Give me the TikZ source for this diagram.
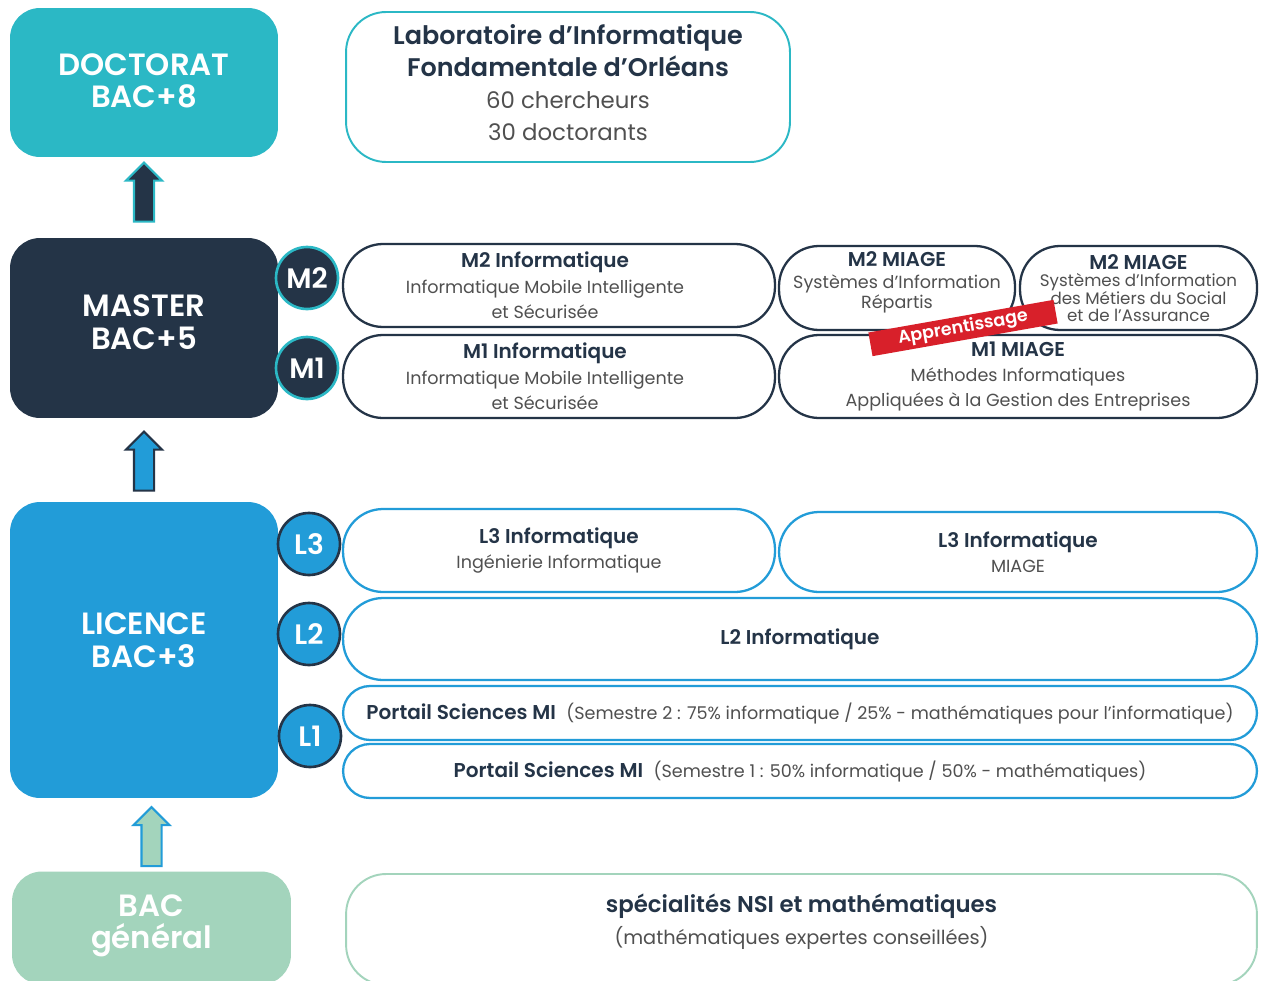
\documentclass[tikz,border=0pt]{standalone}
\usepackage{fontspec}
\usepackage{graphicx}
\setmainfont{Poppins}[BoldFont={Poppins SemiBold}]
\usetikzlibrary{shapes.arrows,calc}
\definecolor{cteal}{HTML}{2BB8C5}
\definecolor{cnavy}{HTML}{243447}
\definecolor{cblue}{HTML}{229CD8}
\definecolor{cgreen}{HTML}{A3D4BC}
\definecolor{cred}{HTML}{D8202A}
\definecolor{cgray}{HTML}{505050}
\newcommand{\ptitle}[1]{{\bfseries\fontsize{11.4}{14.5}\selectfont #1}}
\newcommand{\psub}[1]{{\color{cgray}#1}}
\tikzset{
	grade/.style 2 args={rectangle,rounded corners=0.6cm,fill=#1,minimum width=5.36cm,minimum height=#2,inner sep=0pt},
	gradetxt/.style={text=white,align=center,font=\fontsize{17.5}{18.5}\selectfont\bfseries,inner sep=0pt},
	prog/.style 2 args={rectangle,rounded corners=0.8cm,draw=#1,line width=1.3pt,fill=white,text=cnavy,align=center,font=\fontsize{10}{14.5}\selectfont,minimum width=#2,inner sep=0pt},
	progtxt/.style={text=cnavy,align=center,font=\fontsize{10}{14.5}\selectfont,inner sep=0pt},
	yr/.style 2 args={circle,fill=#1,draw=#2,line width=1.5pt,minimum size=1.24cm,inner sep=0pt,text=white,font=\fontsize{16}{16}\selectfont\bfseries},
	uparr/.style 2 args={single arrow,shape border rotate=90,fill=#1,draw=#2,line width=1.2pt,minimum height=1.18cm,minimum width=0.68cm,single arrow head extend=0.16cm,inner sep=0.18cm,anchor=tail}
}
\begin{document}
\begin{tikzpicture}[x=0.02cm,y=-0.02cm]
\clip (0,0) rectangle (1263,980);
\fill[white] (0,0) rectangle (1263,980);

% niveaux
\node [grade={cteal}{2.98cm}] (doc) at (144,82.5) {};
\node [gradetxt] (doct) at (144,81) {DOCTORAT\\BAC+8};
\node [grade={cnavy}{3.6cm}] (master) at (144,328) {};
\node [gradetxt] (mastert) at (144,322) {MASTER\\BAC+5};
\node [grade={cblue}{5.92cm}] (licence) at (144,650) {};
\node [gradetxt] (licencet) at (144,640) {LICENCE\\BAC+3};
\node [grade={cgreen}{2.26cm},minimum width=5.58cm] (bac) at (151.5,928) {};
\node [gradetxt] (bact) at (151.5,926) {BAC\\général};

% fleches
\node [uparr={cnavy}{cteal}] (a1) at ($(master.north)+(0,-15)$) {};
\node [uparr={cblue}{cnavy}] (a2) at ($(licence.north)+(0,-10)$) {};
\node [uparr={cgreen}{cblue}] (a3) at ($(bac.north)+(0,-4)$) {};

% laboratoire
\node [prog={cteal}{8.88cm},minimum height=3cm,line width=1.1pt] (lab) at (568,87) {};
\node [progtxt,font=\fontsize{13}{18.2}\selectfont] (labt) at ($(lab.center)+(0,-4)$)
	{{\bfseries\fontsize{14.5}{18.2}\selectfont Laboratoire d’Informatique}\\{\bfseries\fontsize{14.5}{18.2}\selectfont Fondamentale d’Orléans}\\\psub{60 chercheurs}\\\psub{30 doctorants}};

% master
\node [prog={cnavy}{8.64cm},minimum height=1.66cm] (m2info) at (559,285.5) {};
\node [progtxt] (m2infot) at ($(m2info.center)+(-14,0)$)
	{\ptitle{M2 Informatique}\\\psub{Informatique Mobile Intelligente}\\\psub{et Sécurisée}};
\node [prog={cnavy}{4.72cm},minimum height=1.68cm] (m2sir) at (897,288) {};
\node [progtxt,font=\fontsize{10}{11.5}\selectfont] (m2sirt) at ($(m2sir.center)+(0,-6)$)
	{\ptitle{M2 MIAGE}\\[1pt]\psub{Systèmes d’Information}\\\psub{Répartis}};
\node [prog={cnavy}{4.74cm},minimum height=1.68cm,font=\fontsize{9.5}{10}\selectfont] (m2sim) at (1138.5,288)
	{\ptitle{M2 MIAGE}\\\psub{Systèmes d’Information}\\\psub{des Métiers du Social}\\\psub{et de l’Assurance}};
\node [prog={cnavy}{8.64cm},minimum height=1.66cm] (m1info) at (559,376.5) {};
\node [progtxt] (m1infot) at ($(m1info.center)+(-14,0)$)
	{\ptitle{M1 Informatique}\\\psub{Informatique Mobile Intelligente}\\\psub{et Sécurisée}};
\node [prog={cnavy}{9.56cm},minimum height=1.66cm] (m1miage) at (1018,376.5)
	{\ptitle{M1 MIAGE}\\\psub{Méthodes Informatiques}\\\psub{Appliquées à la Gestion des Entreprises}};
\node [rotate=10,fill=cred,text=white,font=\fontsize{10}{10}\selectfont\bfseries,minimum width=3.76cm,minimum height=0.48cm,inner sep=0pt] (appr) at (963,328) {Apprentissage};

\node [yr={cnavy}{cteal}] (m2c) at (307,278) {M2};
\node [yr={cnavy}{cteal}] (m1c) at (307,368) {M1};

% licence
\node [prog={cblue}{8.64cm},minimum height=1.66cm] (l3info) at (559,550.5)
	{\ptitle{L3 Informatique}\\\psub{Ingénierie Informatique}};
\node [prog={cblue}{9.56cm},minimum height=1.6cm] (l3miage) at (1018,552)
	{\ptitle{L3 Informatique}\\\psub{MIAGE}};
\node [prog={cblue}{18.28cm},minimum height=1.64cm] (l2) at (800,639) {\ptitle{L2 Informatique}};
\node [prog={cblue}{18.28cm},minimum height=1.08cm,rounded corners=0.54cm] (ps2) at (800,713)
	{\ptitle{Portail Sciences MI}\hspace{6pt}\psub{(Semestre 2 : 75\% informatique / 25\% - mathématiques pour l’informatique)}};
\node [prog={cblue}{18.28cm},minimum height=1.08cm,rounded corners=0.54cm] (ps1) at (800,771)
	{\ptitle{Portail Sciences MI}\hspace{6pt}\psub{(Semestre 1 : 50\% informatique / 50\% - mathématiques)}};

\node [yr={cblue}{cnavy}] (l3c) at (309,544) {L3};
\node [yr={cblue}{cnavy}] (l2c) at (309,634) {L2};
\node [yr={cblue}{cnavy}] (l1c) at (310,736) {L1};

% bac
\node [prog={cgreen}{18.22cm},minimum height=2.22cm,line width=1.1pt] (spec) at (801.5,929.5) {};
\node [progtxt,font=\fontsize{11}{18}\selectfont] (spect) at (801.5,922)
	{{\bfseries\fontsize{13}{18}\selectfont spécialités NSI et mathématiques}\\\psub{(mathématiques expertes conseillées)}};
\end{tikzpicture}
\end{document}
